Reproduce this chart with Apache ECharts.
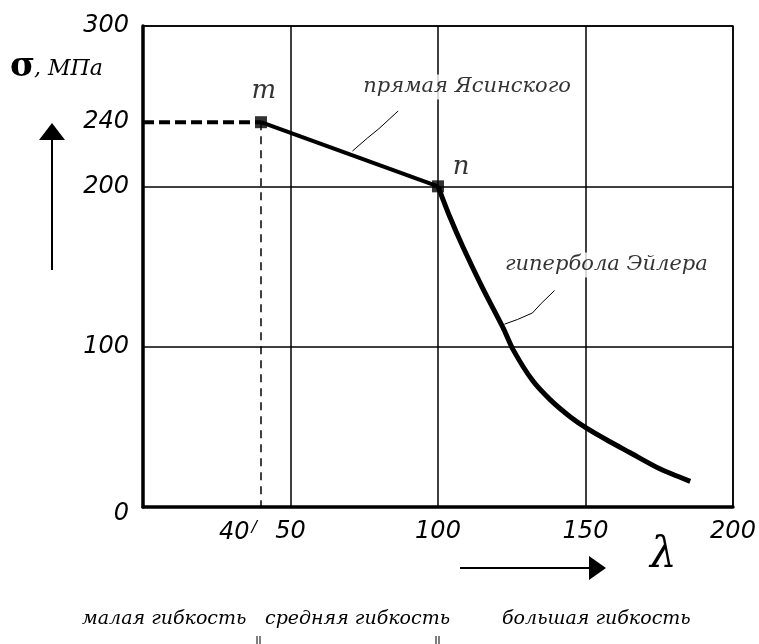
<!DOCTYPE html>
<html>
<head>
<meta charset="utf-8">
<title>Jasinski line and Euler hyperbola</title>
<script src="https://cdn.jsdelivr.net/npm/echarts@6/dist/echarts.min.js"></script>
<style>
  html, body { margin: 0; padding: 0; background: #fff; }
  #chart { width: 759px; height: 644px; }
</style>
</head>
<body>
<div id="chart"></div>
<script>
// --- chart data ---
const xTickLabels = [40, 50, 100, 150, 200]
const yTickLabels = [0, 100, 200, 240, 300]

const plasticPart = [[0, 240], [40, 240]]        // dashed level of yield
const mDrop = [[40, 240], [40, 0]]              // thin dashed drop from m
const jasinskiLine = [[40, 240], [100, 200]]    // straight line m-n
const eulerCurve = [
  [100, 200], [104, 181], [108.5, 162], [115, 137], [122, 112], [125.5, 98],
  [132, 79], [138, 67], [145, 56], [150.5, 49], [158, 41], [165, 34],
  [175, 24], [185.5, 16]
]
const keyPoints = [[40, 240], [100, 200]]
const keyNames = ['m', 'n']

// leaders from the captions to the lines
const jasinskiLeader = [[71, 222], [76, 230], [80, 236], [86.5, 247]]
const eulerLeader = [[122.5, 114], [127, 117], [132, 121], [135, 127], [139.5, 135]]

const captions = [
  { text: 'прямая Ясинского', at: [74, 262] },
  { text: 'гипербола Эйлера', at: [122, 151] }
]
const pointNames = [
  { text: 'm', at: [41, 259] },
  { text: 'n', at: [107.8, 212] }
]

const serif = '"DejaVu Serif", "Liberation Serif", serif'
const tickFont = '"DejaVu Sans", "Liberation Sans", sans-serif'

const chart = echarts.init(document.getElementById('chart'))

const option = {
  animation: false,
  backgroundColor: '#fff',
  grid: {
    left: 143, right: 26, top: 26, bottom: 137,
    show: true, borderColor: '#000', borderWidth: 1.5
  },
  xAxis: {
    type: 'value',
    min: 0, max: 200, interval: 50,
    axisLine: { lineStyle: { color: '#000', width: 3.5 } },
    axisTick: { show: false },
    splitLine: { lineStyle: { color: '#000', width: 1.5 } },
    axisLabel: {
      customValues: xTickLabels,
      margin: 13,
      color: '#000',
      fontFamily: tickFont,
      fontStyle: 'italic',
      fontSize: 24,
      formatter: function (v) {
        if (v === 40) return '{f|40}{s|/}'
        return String(v)
      },
      rich: {
        f: { fontFamily: tickFont, fontStyle: 'italic', fontSize: 24, color: '#000' },
        s: { fontFamily: tickFont, fontSize: 16, color: '#000', padding: [0, 46, 10, 2] }
      }
    }
  },
  yAxis: {
    type: 'value',
    min: 0, max: 300, interval: 100,
    axisLine: { lineStyle: { color: '#000', width: 3.5 } },
    axisTick: { show: false },
    splitLine: { lineStyle: { color: '#000', width: 1.5 } },
    axisLabel: {
      customValues: yTickLabels,
      margin: 14,
      color: '#000',
      fontFamily: tickFont,
      fontStyle: 'italic',
      fontSize: 24,
      formatter: function (v) {
        if (v === 0) return '{z|0}'
        return String(v)
      },
      rich: {
        z: { fontFamily: tickFont, fontStyle: 'italic', fontSize: 24, color: '#000', padding: [14, 0, 0, 0] }
      }
    }
  },
  series: [
    {
      type: 'line', data: plasticPart, symbol: 'none',
      lineStyle: { color: '#000', width: 4, type: [11, 5] }
    },
    {
      type: 'line', data: mDrop, symbol: 'none',
      lineStyle: { color: '#000', width: 1.5, type: [8, 6] }
    },
    {
      type: 'line', data: jasinskiLine, symbol: 'none',
      lineStyle: { color: '#000', width: 4 }
    },
    {
      type: 'line', data: eulerCurve, symbol: 'none', smooth: 0.25,
      lineStyle: { color: '#000', width: 5 }
    },
    {
      type: 'line', data: jasinskiLeader, symbol: 'none',
      lineStyle: { color: '#000', width: 1 }
    },
    {
      type: 'line', data: eulerLeader, symbol: 'none',
      lineStyle: { color: '#000', width: 1 }
    },
    {
      type: 'scatter', symbol: 'rect', symbolSize: 12,
      data: keyPoints.map((p, i) => ({ value: p, name: keyNames[i] })),
      itemStyle: { color: '#000' },
      z: 5
    },
    {
      type: 'scatter', symbolSize: 0,
      data: captions.map(c => ({ value: c.at, name: c.text })),
      label: {
        show: true, position: 'right', distance: 0,
        formatter: '{b}',
        fontFamily: serif, fontStyle: 'italic', fontSize: 21, color: '#000',
        backgroundColor: '#fff', padding: [2, 2]
      },
      z: 6
    },
    {
      type: 'scatter', symbolSize: 0,
      data: pointNames.map(c => ({ value: c.at, name: c.text })),
      label: {
        show: true, position: 'inside',
        formatter: '{b}',
        fontFamily: serif, fontStyle: 'italic', fontSize: 26, color: '#000'
      },
      z: 6
    }
  ],
  graphic: [
    // sigma caption
    {
      type: 'text', left: 10, top: 50,
      style: { text: 'σ', font: 'bold 34px ' + serif, fill: '#000' }
    },
    {
      type: 'text', left: 34, top: 58,
      style: { text: ', МПа', font: 'italic 22px ' + serif, fill: '#000' }
    },
    // vertical arrow
    { type: 'line', shape: { x1: 52, y1: 270, x2: 52, y2: 135 }, style: { stroke: '#000', lineWidth: 2 } },
    { type: 'polygon', shape: { points: [[52, 123], [39, 140], [65, 140]] }, style: { fill: '#000' } },
    // horizontal arrow
    { type: 'line', shape: { x1: 460, y1: 568, x2: 592, y2: 568 }, style: { stroke: '#000', lineWidth: 2 } },
    { type: 'polygon', shape: { points: [[606, 568], [589, 556], [589, 580]] }, style: { fill: '#000' } },
    {
      type: 'text', left: 650, top: 535,
      style: { text: 'λ', font: 'italic 42px ' + serif, fill: '#000' }
    },
    // flexibility zones
    {
      type: 'text', left: 82, top: 610,
      style: { text: 'малая гибкость', font: 'italic 19px ' + serif, fill: '#000' }
    },
    {
      type: 'text', left: 265, top: 610,
      style: { text: 'средняя гибкость', font: 'italic 19px ' + serif, fill: '#000' }
    },
    {
      type: 'text', left: 502, top: 610,
      style: { text: 'большая гибкость', font: 'italic 19px ' + serif, fill: '#000' }
    },
    { type: 'line', shape: { x1: 257, y1: 636, x2: 257, y2: 644 }, style: { stroke: '#000', lineWidth: 1 } },
    { type: 'line', shape: { x1: 260, y1: 636, x2: 260, y2: 644 }, style: { stroke: '#000', lineWidth: 1 } },
    { type: 'line', shape: { x1: 436, y1: 636, x2: 436, y2: 644 }, style: { stroke: '#000', lineWidth: 1 } },
    { type: 'line', shape: { x1: 439, y1: 636, x2: 439, y2: 644 }, style: { stroke: '#000', lineWidth: 1 } }
  ]
}

chart.setOption(option)

window.addEventListener('resize', () => {
  chart.resize()
})
</script>
</body>
</html>
